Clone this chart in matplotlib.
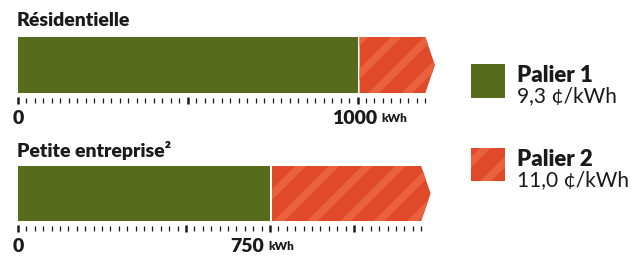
import matplotlib.pyplot as plt
from matplotlib.patches import Polygon, Rectangle
from matplotlib.transforms import blended_transform_factory, offset_copy

plt.rcParams['font.family'] = ['Lato', 'DejaVu Sans']

# donnees
categories = ['Résidentielle', 'Petite entreprise²']
seuils = [1000, 750]          # fin du palier 1 (kWh)
fin_axe = 1200                # fin de l'echelle graduee
paliers = ['Palier 1', 'Palier 2']
tarifs = ['9,3 ¢/kWh', '11,0 ¢/kWh']

VERT = '#566b1c'
ROUGE = '#e04a2a'
ROUGE_CLAIR = '#e9623d'
NOIR = '#1a1a1a'

W, H = 634, 256
fig = plt.figure(figsize=(W / 100, H / 100), dpi=100)
plt.rcParams['hatch.linewidth'] = 5.5


def fbox(x0, y0, x1, y1):
    # pixels (haut-gauche) -> coordonnees figure
    return [x0 / W, 1 - y1 / H, (x1 - x0) / W, (y1 - y0) / H]


# (y haut barre, y bas barre, px par kWh, y titre, y etiquettes, alignement, decalage)
panneaux = [
    (37, 93, 0.3395, 20, 118, 'center', -3),
    (166, 221, 0.336, 151, 246, 'right', -6),
]

for i, (cat, seuil) in enumerate(zip(categories, seuils)):
    y0, y1, ppk, yt, yl, ha_lab, dx = panneaux[i]
    xmax = 1300
    ax = fig.add_axes(fbox(18, y0, 18 + xmax * ppk, y1))
    ax.set_xlim(0, xmax)
    ax.set_ylim(0, 1)
    ax.axis('off')

    # palier 1
    ax.add_patch(Rectangle((0, 0), seuil, 1, facecolor=VERT, edgecolor='none'))
    # palier 2 (fleche hachuree)
    gap = 6
    pts = [(seuil + gap, 0), (fin_axe, 0), (fin_axe + 28, 0.5), (fin_axe, 1), (seuil + gap, 1)]
    ax.add_patch(Polygon(pts, closed=True, facecolor=ROUGE, edgecolor=ROUGE_CLAIR,
                         linewidth=0, hatch='/'))

    # graduations
    tr = blended_transform_factory(ax.transData, ax.transAxes)
    h = y1 - y0
    for v in range(0, fin_axe + 1, 25):
        major = v in (0, 500, 1000, seuil)
        top = -4 / h if major else -5 / h
        bot = -11 / h if major else -10 / h
        ax.plot([v, v], [top, bot], transform=tr, clip_on=False,
                color=NOIR, lw=1.8 if major else 0.9, solid_capstyle='butt')

    # titre
    fig.text(17 / W, 1 - yt / H, cat, fontsize=14, fontweight='heavy',
             color=NOIR, va='center', ha='left')

    # etiquettes
    ylab = -(yl - y1) / h
    ax.text(0, ylab, '0', transform=tr, ha='center', va='center',
            fontsize=14, fontweight='heavy', color=NOIR)
    ax.text(seuil, ylab, str(seuil), transform=offset_copy(tr, fig, x=dx, units='dots'),
            ha=ha_lab, va='center', fontsize=14, fontweight='heavy', color=NOIR)
    if ha_lab == 'center':
        kx = seuil + 24 / ppk
    else:
        kx = seuil - 2 / ppk
    ax.text(kx, ylab - 1 / h, 'kWh', transform=tr, ha='left', va='center',
            fontsize=8.5, fontweight='heavy', color=NOIR)

# legende
leg = [(64, 98, VERT, None), (148, 181, ROUGE, '/')]
for (ly0, ly1, col, hat), pal, tar in zip(leg, paliers, tarifs):
    lax = fig.add_axes(fbox(471, ly0, 505, ly1))
    lax.set_xlim(0, 1)
    lax.set_ylim(0, 1)
    lax.axis('off')
    lax.add_patch(Rectangle((0, 0), 1, 1, facecolor=col,
                            edgecolor=ROUGE_CLAIR if hat else 'none', linewidth=0, hatch=hat))
    fig.text(517 / W, 1 - (ly0 + 11) / H, pal, fontsize=16, fontweight='heavy',
             color=NOIR, va='center', ha='left')
    fig.text(517 / W, 1 - (ly0 + 32) / H, tar, fontsize=15,
             color=NOIR, va='center', ha='left')

fig.savefig('out.png', dpi=100)
